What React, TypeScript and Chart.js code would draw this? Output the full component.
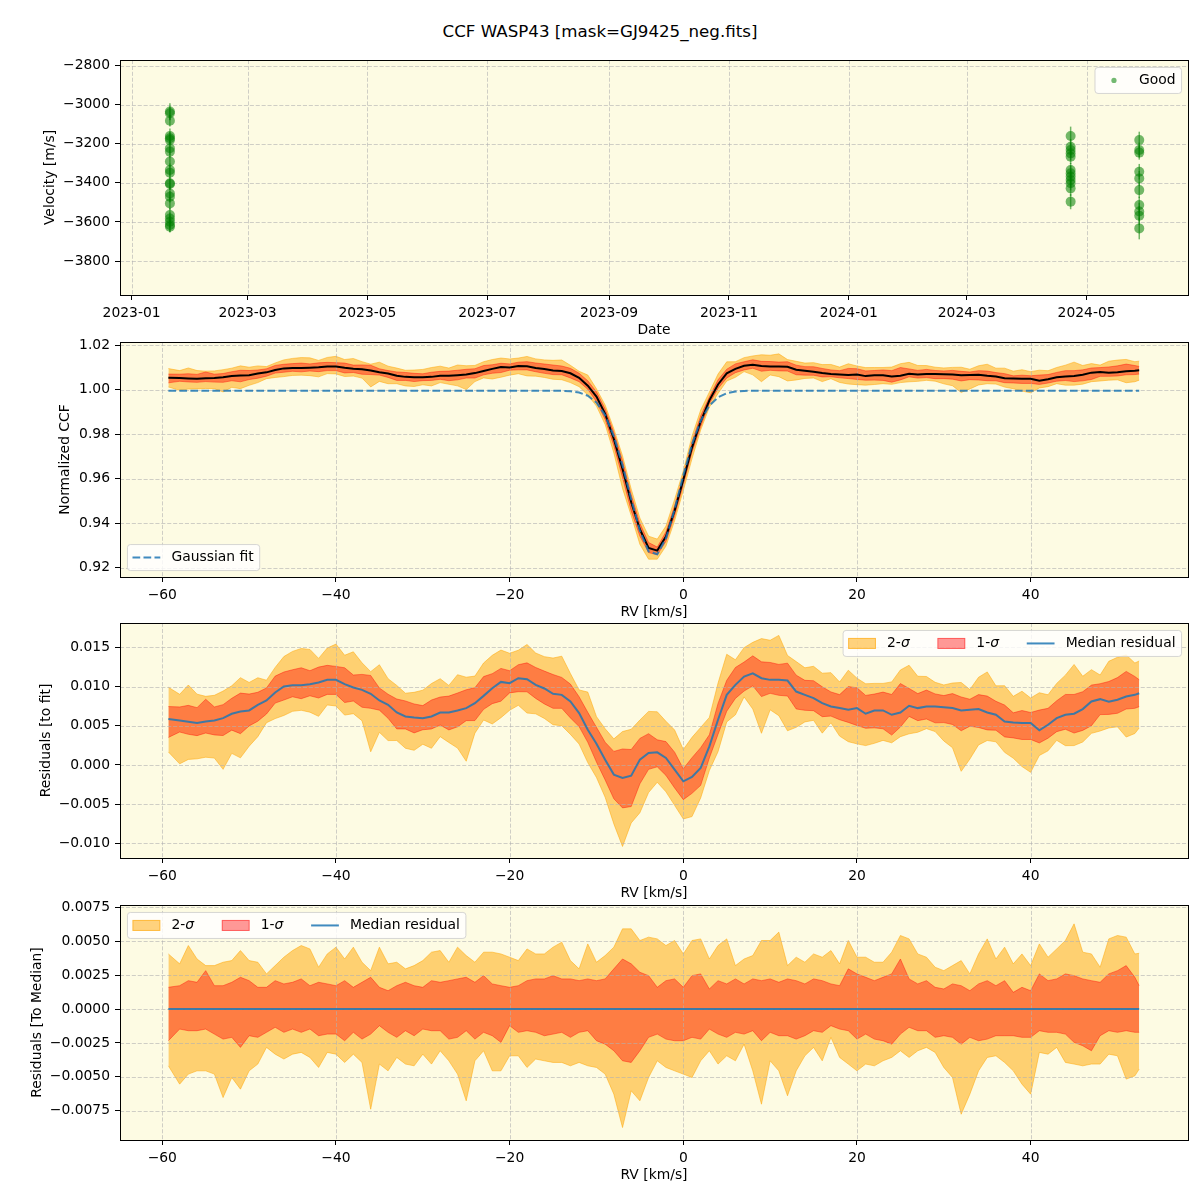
import React, { useEffect, useRef } from 'react';
import { Chart, registerables } from 'chart.js';
Chart.register(...registerables);

const FONT = "'DejaVu Sans', 'Liberation Sans', sans-serif";
const FS = 13.89;

// ---------- Panel 1: radial velocities ----------
const obsDates = [
  '2023-01-20T12:00:00Z','2023-01-20T12:00:00Z','2023-01-20T12:00:00Z','2023-01-20T12:00:00Z','2023-01-20T12:00:00Z',
  '2023-01-20T12:00:00Z','2023-01-20T12:00:00Z','2023-01-20T12:00:00Z','2023-01-20T12:00:00Z','2023-01-20T12:00:00Z',
  '2023-01-20T12:00:00Z','2023-01-20T12:00:00Z','2023-01-20T12:00:00Z','2023-01-20T12:00:00Z','2023-01-20T12:00:00Z',
  '2023-01-20T12:00:00Z','2023-01-20T12:00:00Z','2023-01-20T12:00:00Z','2023-01-20T12:00:00Z','2023-01-20T12:00:00Z',
  '2023-01-20T12:00:00Z',
  '2024-04-22T21:00:00Z','2024-04-22T21:00:00Z','2024-04-22T21:00:00Z','2024-04-22T21:00:00Z','2024-04-22T21:00:00Z',
  '2024-04-22T21:00:00Z','2024-04-22T21:00:00Z','2024-04-22T21:00:00Z','2024-04-22T21:00:00Z','2024-04-22T21:00:00Z',
  '2024-04-22T21:00:00Z','2024-04-22T21:00:00Z',
  '2024-05-27T19:00:00Z','2024-05-27T19:00:00Z','2024-05-27T19:00:00Z','2024-05-27T19:00:00Z','2024-05-27T19:00:00Z',
  '2024-05-27T19:00:00Z','2024-05-27T19:00:00Z','2024-05-27T19:00:00Z','2024-05-27T19:00:00Z','2024-05-27T19:00:00Z',
];
const velocities = [
  -3035, -3044, -3082, -3160, -3172, -3181, -3223, -3240, -3291, -3334, -3348, -3402, -3406, -3454, -3471, -3505,
  -3565, -3582, -3599, -3616, -3624,
  -3160, -3215, -3232, -3249, -3266, -3334, -3351, -3368, -3385, -3402, -3428, -3496,
  -3181, -3232, -3245, -3343, -3377, -3437, -3513, -3547, -3568, -3633,
];
const velErrors = [
  42, 35, 30, 38, 32, 30, 35, 30, 28, 33, 30, 32, 30, 34, 30, 33, 36, 30, 32, 35, 30,
  48, 40, 36, 35, 38, 36, 40, 35, 38, 36, 40, 39,
  43, 38, 36, 40, 38, 40, 42, 45, 48, 56,
];
const dateTickLabels = ['2023-01', '2023-03', '2023-05', '2023-07', '2023-09', '2023-11', '2024-01', '2024-03', '2024-05'];
const velTicks = [-3800, -3600, -3400, -3200, -3000, -2800];

// ---------- CCF panels ----------
const rvGrid = [
  -59.3, -58, -57, -56, -55, -54, -53, -52, -51, -50,
  -49, -48, -47, -46, -45, -44, -43, -42, -41, -40,
  -39, -38, -37, -36, -35, -34, -33, -32, -31, -30,
  -29, -28, -27, -26, -25, -24, -23, -22, -21, -20,
  -19, -18, -17, -16, -15, -14, -13, -12, -11, -10,
  -9, -8, -7, -6, -5, -4, -3, -2, -1, 0,
  1, 2, 3, 4, 5, 6, 7, 8, 9, 10,
  11, 12, 13, 14, 15, 16, 17, 18, 19, 20,
  21, 22, 23, 24, 25, 26, 27, 28, 29, 30,
  31, 32, 33, 34, 35, 36, 37, 38, 39, 40,
  41, 42, 43, 44, 45, 46, 47, 48, 49, 50,
  51, 52, 52.5,
];
const gaussFit = [
  0.9995, 0.9995, 0.9995, 0.9995, 0.9995, 0.9995, 0.9995, 0.9995, 0.9995, 0.9995,
  0.9995, 0.9995, 0.9995, 0.9995, 0.9995, 0.9995, 0.9995, 0.9995, 0.9995, 0.9995,
  0.9995, 0.9995, 0.9995, 0.9995, 0.9995, 0.9995, 0.9995, 0.9995, 0.9995, 0.9995,
  0.9995, 0.9995, 0.9995, 0.9995, 0.9995, 0.9995, 0.9995, 0.9995, 0.9995, 0.9995,
  0.9995, 0.9995, 0.9995, 0.9995, 0.99948, 0.99941, 0.99921, 0.99863, 0.99722, 0.99416,
  0.98841, 0.97904, 0.96598, 0.95076, 0.93656, 0.92733, 0.92604, 0.9331, 0.94621, 0.96153,
  0.97547, 0.98601, 0.99277, 0.99652, 0.99833, 0.99909, 0.99937, 0.99946, 0.9995, 0.9995,
  0.9995, 0.9995, 0.9995, 0.9995, 0.9995, 0.9995, 0.9995, 0.9995, 0.9995, 0.9995,
  0.9995, 0.9995, 0.9995, 0.9995, 0.9995, 0.9995, 0.9995, 0.9995, 0.9995, 0.9995,
  0.9995, 0.9995, 0.9995, 0.9995, 0.9995, 0.9995, 0.9995, 0.9995, 0.9995, 0.9995,
  0.9995, 0.9995, 0.9995, 0.9995, 0.9995, 0.9995, 0.9995, 0.9995, 0.9995, 0.9995,
  0.9995, 0.9995, 0.9995,
];
const medianResid = [
  0.00585, 0.00568, 0.00551, 0.00534, 0.00555, 0.00568, 0.00597, 0.00653, 0.00682, 0.00695,
  0.00767, 0.00822, 0.00924, 0.01, 0.01017, 0.01017, 0.0103, 0.01051, 0.01085, 0.01085,
  0.0103, 0.00987, 0.00958, 0.00907, 0.00822, 0.00767, 0.00669, 0.00619, 0.00606, 0.00597,
  0.00619, 0.00669, 0.00669, 0.00695, 0.00725, 0.00788, 0.00881, 0.00979, 0.01059, 0.01042,
  0.01106, 0.01093, 0.01021, 0.00975, 0.00907, 0.00894, 0.00809, 0.00661, 0.00449, 0.00271,
  0.00068, -0.00123, -0.00165, -0.00136, 0.00068, 0.00153, 0.00161, 0.00089, -0.00059, -0.00208,
  -0.00153, -0.00038, 0.00237, 0.00576, 0.00894, 0.01021, 0.01127, 0.01169, 0.01106, 0.01085,
  0.01085, 0.01076, 0.00936, 0.00894, 0.00852, 0.00788, 0.00746, 0.00725, 0.00703, 0.00725,
  0.00653, 0.00695, 0.00695, 0.0064, 0.00669, 0.00754, 0.00725, 0.00746, 0.00746, 0.00737,
  0.00725, 0.00695, 0.00703, 0.00712, 0.00669, 0.0064, 0.00555, 0.00542, 0.00534, 0.00534,
  0.00441, 0.00513, 0.00597, 0.0064, 0.00653, 0.00712, 0.00809, 0.00839, 0.00805, 0.00831,
  0.00873, 0.00894, 0.00915,
];
const sig2Upper = [
  0.00406, 0.00333, 0.00468, 0.00369, 0.0032, 0.0032, 0.00345, 0.00357, 0.00431, 0.00357,
  0.00345, 0.00259, 0.0032, 0.00382, 0.00431, 0.00468, 0.00443, 0.00308, 0.00406, 0.00456,
  0.00369, 0.00456, 0.00345, 0.00283, 0.00456, 0.00333, 0.00345, 0.00296, 0.0032, 0.00357,
  0.00419, 0.00431, 0.00345, 0.00456, 0.00394, 0.00345, 0.00419, 0.00419, 0.00406, 0.00382,
  0.00357, 0.00443, 0.00406, 0.00406, 0.00456, 0.00493, 0.00357, 0.00296, 0.0048, 0.00345,
  0.00394, 0.00456, 0.00591, 0.00591, 0.00505, 0.0053, 0.00517, 0.00468, 0.00505, 0.00406,
  0.00505, 0.00517, 0.00369, 0.00468, 0.00517, 0.0032, 0.00369, 0.00394, 0.00505, 0.00505,
  0.00567, 0.0032, 0.00382, 0.00345, 0.00406, 0.00382, 0.00431, 0.00333, 0.00505, 0.00382,
  0.00382, 0.00345, 0.00345, 0.00419, 0.00542, 0.00517, 0.00406, 0.00382, 0.00308, 0.00283,
  0.0032, 0.00357, 0.00259, 0.00406, 0.00517, 0.00369, 0.00456, 0.00333, 0.00406, 0.0032,
  0.0048, 0.00382, 0.00443, 0.00505, 0.00628, 0.00419, 0.00406, 0.00308, 0.00517, 0.00542,
  0.0053, 0.00406, 0.00411,
];
const sig1Upper = [
  0.0016, 0.00172, 0.00209, 0.00197, 0.00283, 0.00172, 0.00172, 0.00197, 0.00234, 0.00209,
  0.0016, 0.0016, 0.00209, 0.00185, 0.00197, 0.00222, 0.00172, 0.00197, 0.00185, 0.00172,
  0.00209, 0.0016, 0.00197, 0.00234, 0.0016, 0.00135, 0.00172, 0.00197, 0.00172, 0.0016,
  0.00209, 0.00197, 0.00209, 0.00222, 0.00234, 0.00197, 0.00246, 0.00185, 0.00172, 0.0016,
  0.00172, 0.00209, 0.00222, 0.00222, 0.00246, 0.00222, 0.00222, 0.00209, 0.00222, 0.00209,
  0.00222, 0.00296, 0.00369, 0.00333, 0.00271, 0.00246, 0.0016, 0.00209, 0.00222, 0.0016,
  0.00246, 0.00259, 0.00148, 0.00209, 0.00185, 0.00222, 0.00185, 0.00222, 0.00209, 0.00222,
  0.00197, 0.00222, 0.00209, 0.00185, 0.00222, 0.00209, 0.00185, 0.00172, 0.00296, 0.00259,
  0.00234, 0.00209, 0.00234, 0.00259, 0.00369, 0.00222, 0.00185, 0.00209, 0.0016, 0.00148,
  0.00185, 0.00172, 0.00135, 0.00185, 0.00209, 0.00172, 0.00209, 0.00123, 0.0016, 0.00135,
  0.00259, 0.00209, 0.00222, 0.00259, 0.00246, 0.00222, 0.00209, 0.00197, 0.00259, 0.00283,
  0.0032, 0.00234, 0.00172,
];
const sig1Lower = [
  -0.00234, -0.00148, -0.0016, -0.0016, -0.00148, -0.00185, -0.00222, -0.00209, -0.00283, -0.00197,
  -0.00209, -0.00172, -0.00135, -0.00172, -0.00148, -0.00172, -0.00148, -0.00197, -0.00185, -0.00185,
  -0.00234, -0.00172, -0.00222, -0.00185, -0.00123, -0.00172, -0.00209, -0.0016, -0.00197, -0.00148,
  -0.0016, -0.0016, -0.00222, -0.00209, -0.0016, -0.00222, -0.00172, -0.00197, -0.00246, -0.00123,
  -0.00172, -0.0016, -0.00172, -0.00197, -0.00185, -0.00172, -0.00209, -0.00172, -0.0016, -0.00234,
  -0.00259, -0.00308, -0.00382, -0.00394, -0.00308, -0.00209, -0.00185, -0.00222, -0.00234, -0.00234,
  -0.00209, -0.00222, -0.00148, -0.00185, -0.00209, -0.00172, -0.00185, -0.0016, -0.00234, -0.00172,
  -0.00197, -0.00197, -0.00222, -0.00197, -0.0016, -0.00172, -0.00123, -0.00148, -0.0016, -0.00222,
  -0.00185, -0.00222, -0.00234, -0.00259, -0.00185, -0.00135, -0.0016, -0.0016, -0.00209, -0.00197,
  -0.00209, -0.00259, -0.00209, -0.00234, -0.00222, -0.00197, -0.00197, -0.00197, -0.00209, -0.00209,
  -0.0016, -0.00172, -0.00172, -0.00185, -0.00246, -0.00271, -0.00308, -0.00197, -0.0016, -0.00172,
  -0.0016, -0.00172, -0.00172,
];
const sig2Lower = [
  -0.00419, -0.00554, -0.0048, -0.00456, -0.00456, -0.0048, -0.00653, -0.00505, -0.00591, -0.00456,
  -0.00406, -0.00283, -0.00333, -0.00369, -0.00333, -0.0032, -0.00357, -0.00431, -0.0032, -0.00333,
  -0.00394, -0.00333, -0.00394, -0.00739, -0.00406, -0.00456, -0.00357, -0.00406, -0.00419, -0.00333,
  -0.00406, -0.00308, -0.00382, -0.0048, -0.00677, -0.00382, -0.00308, -0.00456, -0.00456, -0.00345,
  -0.00345, -0.00431, -0.00369, -0.00382, -0.00394, -0.00394, -0.00419, -0.00394, -0.00419, -0.00431,
  -0.0048, -0.00628, -0.00874, -0.00603, -0.00677, -0.00505, -0.00382, -0.00431, -0.00456, -0.0048,
  -0.00505, -0.00382, -0.00308, -0.00406, -0.00345, -0.00382, -0.00259, -0.00456, -0.00702, -0.00382,
  -0.00456, -0.0064, -0.00456, -0.00345, -0.00283, -0.00382, -0.00209, -0.00357, -0.00406, -0.00456,
  -0.00406, -0.00419, -0.00382, -0.00357, -0.00308, -0.00357, -0.00308, -0.00283, -0.0032, -0.00431,
  -0.00505, -0.00776, -0.00628, -0.00456, -0.00357, -0.00345, -0.00394, -0.00456, -0.00554, -0.00628,
  -0.0032, -0.00333, -0.00283, -0.00394, -0.00406, -0.00419, -0.00406, -0.00406, -0.00333, -0.00345,
  -0.00517, -0.00493, -0.00443,
];
const rvTicks = [-60, -40, -20, 0, 20, 40];
const ccfTicks = [0.92, 0.94, 0.96, 0.98, 1.0, 1.02];
const fitResidTicks = [-0.01, -0.005, 0, 0.005, 0.01, 0.015];
const medResidTicks = [-0.0075, -0.005, -0.0025, 0, 0.0025, 0.005, 0.0075];

// ---------- styling ----------
const BG = '#fdfbe3';
const GRID = 'rgba(176,176,176,0.6)';
const ORANGE = 'rgba(255,165,0,0.5)';
const RED = 'rgba(255,0,0,0.4)';
const BLUE = 'rgba(31,119,180,0.85)';
const GREEN = 'rgba(0,128,0,0.55)';

const EPOCH = Date.UTC(2023, 0, 1);
const dayOf = (s: string) => (Date.parse(s) - EPOCH) / 86400000;
const minus = (s: string) => s.replace('-', '\u2212');

type Seg = { t: string; italic?: boolean };
type LegItem = { kind: 'patch' | 'line' | 'dash' | 'dot'; color: string; label: Seg[] };
type Decor = {
  xTitle: string;
  yTitle: string;
  yTitleOffset: number;
  legend: { items: LegItem[]; corner: 'ne' | 'nw' | 'sw' };
  gridAfter: number;
  errorBars?: { x: number[]; y: number[]; e: number[] };
};

function drawGrid(chart: any) {
  const { ctx, chartArea: a, scales } = chart;
  const xs = scales.x, ys = scales.y;
  ctx.save();
  ctx.strokeStyle = GRID;
  ctx.lineWidth = 1;
  ctx.setLineDash([4.1, 1.8]);
  xs.ticks.forEach((t: any) => {
    const px = Math.round(xs.getPixelForValue(t.value)) + 0.5;
    ctx.beginPath(); ctx.moveTo(px, a.top); ctx.lineTo(px, a.bottom); ctx.stroke();
  });
  ys.ticks.forEach((t: any) => {
    const py = Math.round(ys.getPixelForValue(t.value)) + 0.5;
    ctx.beginPath(); ctx.moveTo(a.left, py); ctx.lineTo(a.right, py); ctx.stroke();
  });
  ctx.restore();
}

function segWidth(ctx: CanvasRenderingContext2D, segs: Seg[]) {
  let w = 0;
  segs.forEach((s) => {
    ctx.font = `${s.italic ? 'italic ' : ''}${FS}px ${FONT}`;
    w += ctx.measureText(s.t).width;
  });
  return w;
}

function drawLegend(chart: any, cfg: Decor['legend']) {
  const { ctx, chartArea: a } = chart;
  const pad = 0.4 * FS, hl = 2 * FS, htp = 0.8 * FS, cs = 2 * FS, ba = 0.5 * FS;
  const widths = cfg.items.map((it) => segWidth(ctx, it.label));
  let W = 2 * pad + cs * (cfg.items.length - 1);
  widths.forEach((w) => (W += hl + htp + w));
  const H = 26;
  const x = cfg.corner === 'ne' ? a.right - ba - W : a.left + ba;
  const y = cfg.corner === 'sw' ? a.bottom - ba - H : a.top + ba;
  ctx.save();
  ctx.beginPath();
  (ctx as any).roundRect(x + 0.5, y + 0.5, W, H, 3);
  ctx.fillStyle = 'rgba(255,255,255,0.8)';
  ctx.fill();
  ctx.strokeStyle = 'rgba(204,204,204,0.8)';
  ctx.lineWidth = 1;
  ctx.stroke();
  let cx = x + pad;
  const cy = y + H / 2 + 0.5;
  cfg.items.forEach((it, i) => {
    if (it.kind === 'patch') {
      ctx.fillStyle = it.color;
      ctx.fillRect(cx, cy - 5.5, hl, 11);
      ctx.strokeStyle = it.color;
      ctx.lineWidth = 1;
      ctx.strokeRect(cx + 0.5, cy - 5, hl - 1, 10);
    } else if (it.kind === 'line' || it.kind === 'dash') {
      ctx.strokeStyle = it.color;
      ctx.lineWidth = 2;
      ctx.setLineDash(it.kind === 'dash' ? [7.7, 3.3] : []);
      ctx.beginPath(); ctx.moveTo(cx, cy); ctx.lineTo(cx + hl, cy); ctx.stroke();
      ctx.setLineDash([]);
    } else {
      ctx.fillStyle = it.color;
      ctx.beginPath(); ctx.arc(cx + hl / 2, cy, 2.6, 0, Math.PI * 2); ctx.fill();
    }
    let tx = cx + hl + htp;
    ctx.fillStyle = '#000';
    ctx.textBaseline = 'middle';
    ctx.textAlign = 'left';
    it.label.forEach((s) => {
      ctx.font = `${s.italic ? 'italic ' : ''}${FS}px ${FONT}`;
      ctx.fillText(s.t, tx, cy);
      tx += ctx.measureText(s.t).width;
    });
    cx += hl + htp + widths[i] + cs;
  });
  ctx.restore();
}

function makeDecor(cfg: Decor) {
  return {
    id: 'decor',
    beforeDraw(chart: any) {
      const { ctx, chartArea: a } = chart;
      ctx.save();
      ctx.fillStyle = BG;
      ctx.fillRect(a.left, a.top, a.right - a.left, a.bottom - a.top);
      ctx.restore();
    },
    beforeDatasetsDraw(chart: any) {
      if (cfg.gridAfter < 0) drawGrid(chart);
      if (cfg.errorBars) {
        const { ctx, scales } = chart;
        const eb = cfg.errorBars;
        ctx.save();
        ctx.strokeStyle = GREEN;
        ctx.lineWidth = 1.5;
        eb.x.forEach((xv, i) => {
          const px = scales.x.getPixelForValue(xv);
          ctx.beginPath();
          ctx.moveTo(px, scales.y.getPixelForValue(eb.y[i] + eb.e[i]));
          ctx.lineTo(px, scales.y.getPixelForValue(eb.y[i] - eb.e[i]));
          ctx.stroke();
        });
        ctx.restore();
      }
    },
    afterDatasetDraw(chart: any, args: any) {
      if (args.index === cfg.gridAfter) drawGrid(chart);
    },
    afterDraw(chart: any) {
      const { ctx, chartArea: a } = chart;
      ctx.save();
      ctx.strokeStyle = '#000';
      ctx.lineWidth = 1;
      ctx.strokeRect(a.left + 0.5, a.top + 0.5, a.right - a.left, a.bottom - a.top);
      ctx.fillStyle = '#000';
      ctx.font = `${FS}px ${FONT}`;
      ctx.textAlign = 'center';
      ctx.textBaseline = 'middle';
      ctx.fillText(cfg.xTitle, (a.left + a.right) / 2, a.bottom + 35.5);
      ctx.translate(a.left - cfg.yTitleOffset, (a.top + a.bottom) / 2);
      ctx.rotate(-Math.PI / 2);
      ctx.fillText(cfg.yTitle, 0, 0);
      ctx.restore();
      drawLegend(chart, cfg.legend);
    },
  };
}

function axis(kind: 'x' | 'y', min: number, max: number, ticks: number[], fmt: (v: number) => string) {
  return {
    type: 'linear',
    min,
    max,
    bounds: 'data',
    afterBuildTicks: (s: any) => {
      s.ticks = ticks.map((v) => ({ value: v }));
    },
    afterFit: (s: any) => {
      if (kind === 'x') {
        s.height = 45;
        s.paddingLeft = 0;
        s.paddingRight = 0;
      } else {
        s.width = 120;
        s.paddingTop = 0;
        s.paddingBottom = 0;
      }
    },
    ticks: {
      callback: (v: any) => fmt(Number(v)),
      font: { family: FONT, size: FS },
      color: '#000',
      padding: 5,
      maxRotation: 0,
      autoSkip: false,
    },
    grid: { drawOnChartArea: false, drawTicks: true, tickLength: 5, tickColor: '#000', tickWidth: 1 },
    border: { display: false },
  };
}

function baseOptions(x: any, y: any) {
  return {
    responsive: false,
    animation: false,
    devicePixelRatio: 1,
    events: [],
    layout: { padding: { top: 20, right: 12, bottom: 0, left: 0 } },
    plugins: { legend: { display: false }, tooltip: { enabled: false }, title: { display: false } },
    scales: { x, y },
  };
}

function lineDs(ys: number[], color: string, width: number, fill: any, order: number, dash?: number[]) {
  return {
    data: rvGrid.map((x, i) => ({ x, y: ys[i] })),
    borderColor: color,
    backgroundColor: color,
    borderWidth: width,
    borderDash: dash || [],
    pointRadius: 0,
    fill,
    order,
    tension: 0,
  };
}

function bandSets(center: number[]) {
  const add = (off: number[]) => center.map((c, i) => c + off[i]);
  return [
    lineDs(add(sig2Lower), ORANGE, 1, false, 6),
    lineDs(add(sig2Upper), ORANGE, 1, '-1', 5),
    lineDs(add(sig1Lower), RED, 1, false, 4),
    lineDs(add(sig1Upper), RED, 1, '-1', 3),
  ];
}

const sigmaItems: LegItem[] = [
  { kind: 'patch', color: ORANGE, label: [{ t: '2-' }, { t: 'σ', italic: true }] },
  { kind: 'patch', color: RED, label: [{ t: '1-' }, { t: 'σ', italic: true }] },
  { kind: 'line', color: BLUE, label: [{ t: 'Median residual' }] },
];

const rvFmt = (v: number) => minus(String(v));
const RV_MIN = -64.87, RV_MAX = 58.12;

function config1(): any {
  const days = obsDates.map(dayOf);
  const tickDays = dateTickLabels.map((l) => dayOf(l + '-01T00:00:00Z'));
  const labelFor = (v: number) => {
    const i = tickDays.findIndex((d) => Math.abs(d - v) < 1e-6);
    return i >= 0 ? dateTickLabels[i] : '';
  };
  return {
    type: 'scatter',
    data: {
      datasets: [{
        data: days.map((x, i) => ({ x, y: velocities[i] })),
        backgroundColor: GREEN,
        borderColor: 'rgba(0,0,0,0)',
        borderWidth: 0,
        pointRadius: 5,
      }],
    },
    options: baseOptions(
      axis('x', -5.9, 537.6, tickDays, labelFor),
      axis('y', -3974, -2771, velTicks, (v) => minus(String(v))),
    ),
    plugins: [makeDecor({
      xTitle: 'Date', yTitle: 'Velocity [m/s]', yTitleOffset: 70, gridAfter: -1,
      legend: { corner: 'ne', items: [{ kind: 'dot', color: GREEN, label: [{ t: 'Good' }] }] },
      errorBars: { x: days, y: velocities, e: velErrors },
    })],
  };
}

function config2(): any {
  const ccf = gaussFit.map((g, i) => g + medianResid[i]);
  return {
    type: 'line',
    data: {
      datasets: [
        ...bandSets(ccf),
        lineDs(ccf, '#000', 2, false, 2),
        lineDs(gaussFit, BLUE, 2, false, 1, [7.7, 3.3]),
      ],
    },
    options: baseOptions(
      axis('x', RV_MIN, RV_MAX, rvTicks, rvFmt),
      axis('y', 0.91581, 1.02135, ccfTicks, (v) => minus(v.toFixed(2))),
    ),
    plugins: [makeDecor({
      xTitle: 'RV [km/s]', yTitle: 'Normalized CCF', yTitleOffset: 55, gridAfter: 3,
      legend: { corner: 'sw', items: [{ kind: 'dash', color: BLUE, label: [{ t: 'Gaussian fit' }] }] },
    })],
  };
}

function config3(): any {
  return {
    type: 'line',
    data: { datasets: [...bandSets(medianResid), lineDs(medianResid, BLUE, 2, false, 1)] },
    options: baseOptions(
      axis('x', RV_MIN, RV_MAX, rvTicks, rvFmt),
      axis('y', -0.01186, 0.0181, fitResidTicks, (v) => minus(v.toFixed(3))),
    ),
    plugins: [makeDecor({
      xTitle: 'RV [km/s]', yTitle: 'Residuals [to fit]', yTitleOffset: 74, gridAfter: 3,
      legend: { corner: 'ne', items: sigmaItems },
    })],
  };
}

function config4(): any {
  const zero = rvGrid.map(() => 0);
  return {
    type: 'line',
    data: { datasets: [...bandSets(zero), lineDs(zero, BLUE, 2, false, 1)] },
    options: baseOptions(
      axis('x', RV_MIN, RV_MAX, rvTicks, rvFmt),
      axis('y', -0.00966, 0.00767, medResidTicks, (v) => minus(v.toFixed(4))),
    ),
    plugins: [makeDecor({
      xTitle: 'RV [km/s]', yTitle: 'Residuals [To Median]', yTitleOffset: 83, gridAfter: 3,
      legend: { corner: 'nw', items: sigmaItems },
    })],
  };
}

const PANEL_TOPS = [60, 342, 623, 905];

export default function App() {
  const r1 = useRef<HTMLCanvasElement>(null);
  const r2 = useRef<HTMLCanvasElement>(null);
  const r3 = useRef<HTMLCanvasElement>(null);
  const r4 = useRef<HTMLCanvasElement>(null);
  useEffect(() => {
    const charts = [
      new Chart(r1.current as HTMLCanvasElement, config1()),
      new Chart(r2.current as HTMLCanvasElement, config2()),
      new Chart(r3.current as HTMLCanvasElement, config3()),
      new Chart(r4.current as HTMLCanvasElement, config4()),
    ];
    return () => charts.forEach((c) => c.destroy());
  }, []);
  const refs = [r1, r2, r3, r4];
  return (
    <div style={{ position: 'absolute', left: 0, top: 0, width: 1200, height: 1200, background: '#fff', overflow: 'hidden' }}>
      <div style={{ position: 'absolute', top: 22, left: 0, width: 1200, textAlign: 'center', fontFamily: FONT, fontSize: '16.67px', lineHeight: '20px', color: '#000' }}>
        CCF WASP43 [mask=GJ9425_neg.fits]
      </div>
      {refs.map((r, i) => (
        <canvas
          key={i}
          ref={r}
          width={1200}
          height={300}
          style={{ position: 'absolute', left: 0, top: PANEL_TOPS[i] - 20, width: 1200, height: 300, display: 'block' }}
        />
      ))}
    </div>
  );
}
